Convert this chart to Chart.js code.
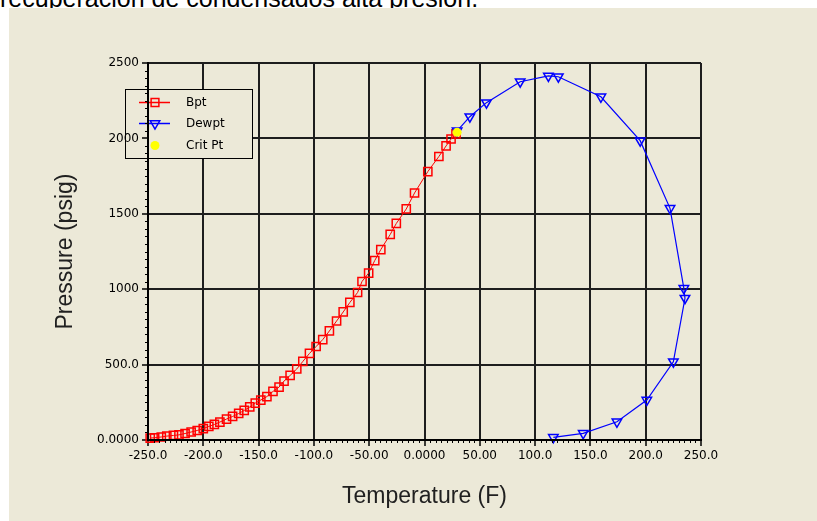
<!DOCTYPE html>
<html>
<head>
<meta charset="utf-8">
<title>Envolvente de fases</title>
<script src="https://cdn.jsdelivr.net/npm/chart.js@4.4.1/dist/chart.umd.min.js"></script>
<style>
    html, body { margin: 0; padding: 0; background: #ffffff; overflow: hidden; }
    #page { position: relative; width: 817px; height: 521px; overflow: hidden; }
    #caption {
        position: absolute; left: 0; top: -14px;
        font: 25px "Liberation Sans", Arial, sans-serif; color: #000;
        white-space: nowrap; line-height: 25px;
    }
    #panel { position: absolute; left: 9px; top: 8px; width: 808px; height: 513px; background: #ECE9D8; }
    #chart { position: absolute; left: 0; top: 0; }
</style>
</head>
<body>
<div id="page">
    <div id="caption">recuperación de condensados alta presión.</div>
    <div id="panel"></div>
    <canvas id="chart" width="817" height="521"></canvas>
</div>
<script>
// Datos
const bptTemp = [-248, -244, -238, -233, -227, -222, -216.5, -211, -205.5, -200, -195, -190, -185, -179, -173.5,
    -168, -163, -158, -153, -148, -142.5, -137, -131.5, -127, -121.5, -115.5, -110, -104, -98, -92, -86,
    -79.5, -73.5, -67.5, -60.5, -56.5, -50.5, -45, -39.5, -31, -25.5, -16.5, -9, 3, 13, 19.5, 24, 28.5];
const bptPres = [13, 15, 20, 26, 30, 34, 43, 53, 63, 76, 90, 103, 119, 139, 156,
    176, 196, 219, 245, 265, 288, 322, 351, 391, 428, 471, 521, 574, 620, 666, 723,
    789, 849, 912, 978, 1051, 1107, 1190, 1263, 1363, 1436, 1532, 1638, 1780, 1880, 1950, 1996, 2030];

const dewTemp = [29.5, 41, 56, 86.5, 112, 121, 159.5, 195, 222, 234.5, 235.5, 225, 201, 174, 143.5, 116.5];
const dewPres = [2050, 2144, 2237, 2376, 2414, 2409, 2276, 1985, 1536, 1006, 940, 519, 265, 121, 44, 18];

const critTemp = [29.5];
const critPres = [2040];

const xTickVals = [-250, -200, -150, -100, -50, 0, 50, 100, 150, 200, 250];
const xTickLabels = ['-250.0', '-200.0', '-150.0', '-100.0', '-50.00', '0.0000', '50.00', '100.0', '150.0', '200.0', '250.0'];
const yTickVals = [0, 500, 1000, 1500, 2000, 2500];
const yTickLabels = ['0.0000', '500.0', '1000', '1500', '2000', '2500'];

const seriesNames = ['Bpt', 'Dewpt', 'Crit Pt'];

const PANEL_BG = '#ECE9D8';
const GRID_COLOR = '#1e1e1e';
const TICK_FONT = { family: '"DejaVu Sans", Tahoma, sans-serif', size: 12 };
const TITLE_FONT = { family: '"Liberation Sans", Arial, sans-serif', size: 23 };

function toPoints(xs, ys) {
    return xs.map((x, i) => ({ x: x, y: ys[i] }));
}

// Leyenda con borde dentro del área del gráfico
const boxLegend = {
    id: 'boxLegend',
    beforeDatasetsDraw(chart) {
        const ctx = chart.ctx;
        const area = chart.chartArea;
        const x0 = 125, y0 = 89, w = 127, h = 69;
        ctx.save();
        ctx.fillStyle = PANEL_BG;
        ctx.fillRect(area.left, y0, x0 + w - area.left, h);
        ctx.strokeStyle = '#000';
        ctx.lineWidth = 1;
        ctx.strokeRect(x0 + 0.5, y0 + 0.5, w, h);

        const rows = [102.5, 123.5, 145.5];
        const styles = [
            { color: '#ff0000', style: 'rect', line: true, fill: false },
            { color: '#0000ff', style: 'triangle', rot: 180, line: true, fill: false },
            { color: '#ffff00', style: 'circle', line: false, fill: true }
        ];
        rows.forEach((y, i) => {
            const s = styles[i];
            if (s.line) {
                ctx.strokeStyle = s.color;
                ctx.lineWidth = 1.5;
                ctx.beginPath();
                ctx.moveTo(139, y);
                ctx.lineTo(170, y);
                ctx.stroke();
            }
            ctx.strokeStyle = s.color;
            ctx.fillStyle = s.fill ? s.color : 'rgba(0,0,0,0)';
            ctx.lineWidth = 1.5;
            Chart.helpers.drawPoint(ctx, {
                pointStyle: s.style, rotation: s.rot || 0,
                radius: s.fill ? 4.5 : 5.5, borderWidth: s.fill ? 0 : 1.5
            }, 155, y);
            ctx.fillStyle = '#000';
            ctx.font = '12px "DejaVu Sans", Tahoma, sans-serif';
            ctx.textBaseline = 'middle';
            ctx.fillText(seriesNames[i], 186, y);
        });
        ctx.restore();
    },
    afterDraw(chart) {
        // marcas menores de los ejes
        const ctx = chart.ctx;
        const xs = chart.scales.x, ys = chart.scales.y;
        const area = chart.chartArea;
        ctx.save();
        ctx.strokeStyle = '#000';
        ctx.lineWidth = 1;
        ctx.beginPath();
        for (let v = -250; v <= 250; v += 5) {
            if (v % 50 === 0) continue;
            const px = Math.round(xs.getPixelForValue(v)) + 0.5;
            ctx.moveTo(px, area.bottom);
            ctx.lineTo(px, area.bottom + 3);
        }
        for (let v = 0; v <= 2500; v += 50) {
            if (v % 500 === 0) continue;
            const py = Math.round(ys.getPixelForValue(v)) + 0.5;
            ctx.moveTo(area.left - 3, py);
            ctx.lineTo(area.left, py);
        }
        ctx.stroke();
        ctx.restore();
    }
};

document.addEventListener('DOMContentLoaded', () => {
    const ctx = document.getElementById('chart');
    new Chart(ctx, {
        type: 'scatter',
        data: {
            datasets: [
                {
                    label: seriesNames[0],
                    data: toPoints(bptTemp, bptPres),
                    showLine: true,
                    borderColor: '#ff0000',
                    borderWidth: 1,
                    pointStyle: 'rect',
                    pointRadius: 5.8,
                    pointBorderWidth: 1.5,
                    pointBorderColor: '#ff0000',
                    pointBackgroundColor: 'rgba(0,0,0,0)',
                    clip: false,
                    order: 2
                },
                {
                    label: seriesNames[1],
                    data: toPoints(dewTemp, dewPres),
                    showLine: true,
                    borderColor: '#0000ff',
                    borderWidth: 1.2,
                    pointStyle: 'triangle',
                    rotation: 180,
                    pointRadius: 5.5,
                    pointBorderWidth: 1.5,
                    pointBorderColor: '#0000ff',
                    pointBackgroundColor: 'rgba(0,0,0,0)',
                    clip: false,
                    order: 1
                },
                {
                    label: seriesNames[2],
                    data: toPoints(critTemp, critPres),
                    showLine: false,
                    pointStyle: 'circle',
                    pointRadius: 4.5,
                    pointBorderWidth: 0,
                    pointBackgroundColor: '#ffff00',
                    order: 0
                }
            ]
        },
        options: {
            responsive: false,
            animation: false,
            devicePixelRatio: 1,
            layout: { padding: { left: 52, top: 63, right: 116, bottom: 11 } },
            plugins: {
                legend: { display: false },
                tooltip: { enabled: false }
            },
            scales: {
                x: {
                    type: 'linear',
                    min: -250,
                    max: 250,
                    afterFit: (s) => { s.height = 70; },
                    afterBuildTicks: (s) => { s.ticks = xTickVals.map(v => ({ value: v })); },
                    grid: { color: GRID_COLOR, lineWidth: 2, tickLength: 6, tickWidth: 1.5, tickColor: '#000' },
                    border: { color: '#000', width: 2, z: 1 },
                    ticks: {
                        color: '#000',
                        font: TICK_FONT,
                        padding: 3,
                        maxRotation: 0,
                        autoSkip: false,
                        z: 1,
                        callback: (v) => xTickLabels[xTickVals.indexOf(v)]
                    },
                    title: {
                        display: true,
                        text: 'Temperature (F)',
                        color: '#202020',
                        font: TITLE_FONT,
                        padding: 0
                    }
                },
                y: {
                    type: 'linear',
                    min: 0,
                    max: 2500,
                    afterFit: (s) => { s.width = 96; },
                    afterBuildTicks: (s) => { s.ticks = yTickVals.map(v => ({ value: v })); },
                    grid: { color: GRID_COLOR, lineWidth: 2, tickLength: 6, tickWidth: 1.5, tickColor: '#000' },
                    border: { color: '#000', width: 2, z: 1 },
                    ticks: {
                        color: '#000',
                        font: TICK_FONT,
                        padding: 3,
                        autoSkip: false,
                        z: 1,
                        callback: (v) => yTickLabels[yTickVals.indexOf(v)]
                    },
                    title: {
                        display: true,
                        text: 'Pressure (psig)',
                        color: '#202020',
                        font: TITLE_FONT,
                        padding: 0
                    }
                }
            }
        },
        plugins: [boxLegend]
    });
});
</script>
</body>
</html>
